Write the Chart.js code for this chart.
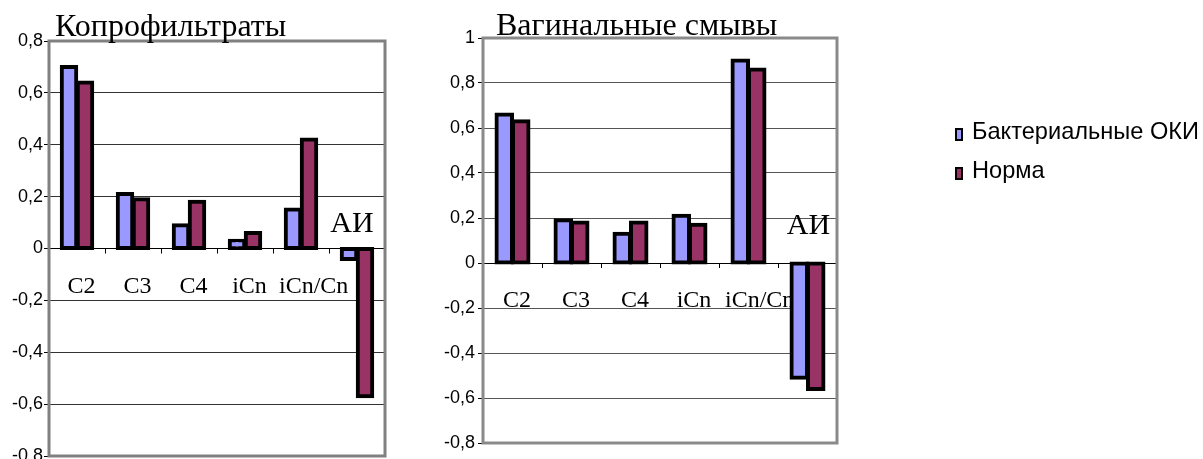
<!DOCTYPE html>
<html>
<head>
<meta charset="utf-8">
<script src="https://cdn.jsdelivr.net/npm/chart.js@4/dist/chart.umd.min.js"></script>
<style>
  html, body { margin: 0; padding: 0; background: #fff; width: 1203px; height: 459px; overflow: hidden; }
  canvas { position: absolute; top: 0; }
  #copro { left: 0; }
  #vag { left: 400px; }
</style>
</head>
<body>
<canvas id="copro" width="400" height="459"></canvas>
<canvas id="vag" width="803" height="459"></canvas>
<script>
// Categories and series
const categories = ['C2', 'C3', 'C4', 'iCn', 'iCn/Cn', 'АИ'];
const seriesNames = ['Бактериальные ОКИ', 'Норма'];
const seriesColors = ['#9999FF', '#993366'];

// Копрофильтраты
const coproOKI  = [0.70, 0.21, 0.09, 0.03, 0.15, -0.04];
const coproNorm = [0.64, 0.19, 0.18, 0.06, 0.42, -0.57];
const coproTicks = [-0.8, -0.6, -0.4, -0.2, 0, 0.2, 0.4, 0.6, 0.8];

// Вагинальные смывы
const vagOKI  = [0.66, 0.19, 0.13, 0.21, 0.90, -0.51];
const vagNorm = [0.63, 0.18, 0.18, 0.17, 0.86, -0.56];
const vagTicks = [-0.8, -0.6, -0.4, -0.2, 0, 0.2, 0.4, 0.6, 0.8, 1];

const fmt = v => String(Math.round(v * 10) / 10).replace('.', ',');
const SERIF = '"Liberation Serif", "Times New Roman", serif';
const SANS = '"Liberation Sans", Arial, sans-serif';

// Frame, zero-line ticks, in-plot category labels, panel title and legend
const panelPlugin = {
  id: 'panel',
  beforeDatasetsDraw(chart, args, o) {
    const { ctx, chartArea: a, scales: { x, y } } = chart;
    const z = y.getPixelForValue(0);
    const catW = (a.right - a.left) / categories.length;
    ctx.save();
    ctx.strokeStyle = o.frameColor;
    ctx.lineWidth = 3;
    ctx.strokeRect(a.left, a.top, a.right - a.left, a.bottom - a.top);

    ctx.strokeStyle = '#000';
    ctx.lineWidth = 1;
    ctx.beginPath();
    for (let i = 1; i < categories.length; i++) {
      const bx = Math.round(a.left + i * catW) + 0.5;
      ctx.moveTo(bx, z);
      ctx.lineTo(bx, z + 5);
    }
    ctx.stroke();

    ctx.fillStyle = '#000';
    ctx.textBaseline = 'alphabetic';
    categories.forEach((c, i) => {
      const vals = chart.data.datasets.map(d => d.data[i]);
      const cx = x.getPixelForValue(i);
      if (Math.max(...vals) >= 0) {
        ctx.font = '24px ' + SERIF;
        const w = ctx.measureText(c).width;
        if (w > catW) {
          ctx.textAlign = 'left';
          ctx.fillText(c, cx - catW / 2 + 6, z + 44);
        } else {
          ctx.textAlign = 'center';
          ctx.fillText(c, cx + 4.5, z + 44);
        }
      } else {
        ctx.font = '30px ' + SERIF;
        ctx.textAlign = 'center';
        ctx.fillText(c, cx + o.aboveDx, z - o.aboveBase);
      }
    });
    ctx.restore();
  },
  afterDraw(chart, args, o) {
    const { ctx } = chart;
    ctx.save();
    ctx.fillStyle = '#000';
    ctx.font = '32px ' + SERIF;
    ctx.textAlign = 'left';
    ctx.textBaseline = 'alphabetic';
    ctx.fillText(o.title, o.titleX, o.titleY);

    if (o.legend) {
      const L = o.legend;
      ctx.font = '23.6px ' + SANS;
      chart.data.datasets.forEach((d, i) => {
        const top = L.y + i * L.step;
        ctx.fillStyle = '#000';
        ctx.fillRect(L.x, top, 8, 13);
        ctx.fillStyle = d.backgroundColor;
        ctx.fillRect(L.x + 2, top + 2, 4, 9);
        ctx.fillStyle = '#000';
        ctx.fillText(d.label, L.x + 17, top + 10.5);
      });
    }
    ctx.restore();
  }
};

function makeChart(id, oki, norm, ticks, geo) {
  return new Chart(document.getElementById(id), {
    type: 'bar',
    data: {
      labels: categories,
      datasets: [oki, norm].map((vals, i) => ({
        label: seriesNames[i],
        data: vals,
        backgroundColor: seriesColors[i],
        borderColor: '#000',
        borderWidth: 4,
        inflateAmount: 2,
        borderSkipped: false,
        categoryPercentage: geo.catPct,
        barPercentage: geo.barPct
      }))
    },
    options: {
      responsive: false,
      animation: false,
      devicePixelRatio: 1,
      layout: { padding: geo.padding },
      plugins: {
        legend: { display: false },
        tooltip: { enabled: false },
        title: { display: false },
        panel: geo.panel
      },
      scales: {
        x: { display: false },
        y: {
          min: ticks[0],
          max: ticks[ticks.length - 1],
          afterBuildTicks: s => { s.ticks = ticks.map(v => ({ value: v })); },
          afterFit: s => { s.width = geo.axisWidth; s.paddingTop = 0; s.paddingBottom = 0; },
          border: { display: false },
          grid: {
            color: c => {
              if (!c.tick) return geo.gridColor;
              const v = c.tick.value;
              if (v === ticks[0] || v === ticks[ticks.length - 1]) return 'rgba(0,0,0,0)';
              return v === 0 ? '#000' : geo.gridColor;
            },
            tickColor: '#000',
            lineWidth: 1,
            tickLength: 5
          },
          ticks: {
            padding: geo.tickPad,
            color: '#000',
            font: { family: SANS, size: 18 },
            callback: v => fmt(v)
          }
        }
      }
    },
    plugins: [panelPlugin]
  });
}

makeChart('copro', coproOKI, coproNorm, coproTicks, {
  padding: { left: 0, top: 41, right: 15, bottom: 3 },
  axisWidth: 49,
  tickPad: 1,
  catPct: 0.5714,
  barPct: 0.906,
  gridColor: '#333',
  panel: { title: 'Копрофильтраты', titleX: 55, titleY: 36, aboveDx: -5, aboveBase: 16.5, frameColor: '#808080' }
});

makeChart('vag', vagOKI, vagNorm, vagTicks, {
  padding: { left: 0, top: 38, right: 366, bottom: 16 },
  axisWidth: 83,
  tickPad: 3,
  catPct: 0.559,
  barPct: 0.939,
  gridColor: '#555',
  panel: {
    title: 'Вагинальные смывы', titleX: 96, titleY: 35, aboveDx: 1, aboveBase: 29, frameColor: '#8a8a8a',
    legend: { x: 555, y: 128, step: 39 }
  }
});
</script>
</body>
</html>
